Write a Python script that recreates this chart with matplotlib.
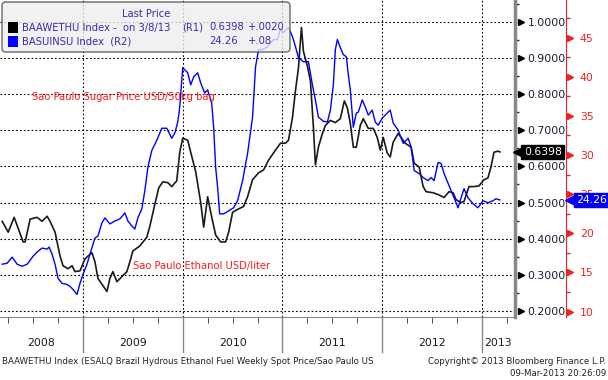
import numpy as np
import matplotlib.pyplot as plt
import matplotlib.transforms as mtransforms
from matplotlib.patches import FancyBboxPatch, Rectangle

# ethanol, USD/liter (R1), decimal year
eth_t = [2008.19, 2008.25, 2008.31, 2008.40, 2008.42, 2008.47, 2008.54, 2008.59, 2008.64, 2008.67,
         2008.72, 2008.77, 2008.80, 2008.85, 2008.89, 2008.92, 2008.97, 2009.02, 2009.05, 2009.09,
         2009.12, 2009.15, 2009.20, 2009.24, 2009.27, 2009.30, 2009.34, 2009.39, 2009.44, 2009.47,
         2009.50, 2009.57, 2009.64, 2009.67, 2009.72, 2009.76, 2009.80, 2009.85, 2009.89, 2009.94,
         2009.97, 2010.00, 2010.05, 2010.08, 2010.13, 2010.18, 2010.21, 2010.25, 2010.28, 2010.33,
         2010.38, 2010.43, 2010.46, 2010.50, 2010.55, 2010.61, 2010.65, 2010.70, 2010.76, 2010.81,
         2010.86, 2010.93, 2010.98, 2011.03, 2011.06, 2011.10, 2011.13, 2011.16, 2011.19, 2011.21,
         2011.25, 2011.28, 2011.31, 2011.33, 2011.36, 2011.40, 2011.43, 2011.48, 2011.53, 2011.58,
         2011.62, 2011.65, 2011.68, 2011.71, 2011.74, 2011.78, 2011.81, 2011.86, 2011.91, 2011.95,
         2011.98, 2012.01, 2012.05, 2012.08, 2012.11, 2012.16, 2012.23, 2012.29, 2012.32, 2012.37,
         2012.41, 2012.44, 2012.51, 2012.56, 2012.62, 2012.67, 2012.71, 2012.74, 2012.79, 2012.82,
         2012.87, 2012.92, 2012.97, 2013.02, 2013.06, 2013.09, 2013.12, 2013.16, 2013.18]
eth_v = [0.448, 0.418, 0.459, 0.391, 0.391, 0.454, 0.459, 0.448, 0.462, 0.448,
         0.418, 0.352, 0.325, 0.317, 0.325, 0.309, 0.311, 0.344, 0.352, 0.361,
         0.336, 0.290, 0.270, 0.254, 0.290, 0.309, 0.281, 0.295, 0.309, 0.336,
         0.366, 0.380, 0.404, 0.434, 0.495, 0.541, 0.557, 0.555, 0.544, 0.560,
         0.639, 0.678, 0.672, 0.639, 0.585, 0.500, 0.432, 0.516, 0.473, 0.410,
         0.391, 0.391, 0.418, 0.473, 0.481, 0.489, 0.516, 0.563, 0.582, 0.590,
         0.617, 0.645, 0.664, 0.664, 0.672, 0.735, 0.809, 0.872, 0.984, 0.918,
         0.877, 0.836, 0.708, 0.604, 0.653, 0.691, 0.713, 0.727, 0.721, 0.732,
         0.781, 0.762, 0.719, 0.653, 0.653, 0.713, 0.732, 0.705, 0.705, 0.680,
         0.645, 0.680, 0.637, 0.626, 0.667, 0.691, 0.664, 0.653, 0.609, 0.598,
         0.544, 0.530, 0.527, 0.522, 0.514, 0.530, 0.527, 0.508, 0.500, 0.503,
         0.544, 0.544, 0.546, 0.563, 0.568, 0.598, 0.639, 0.642, 0.6398]

# sugar, USD/50kg bag (R2)
sug_t = [2008.19, 2008.24, 2008.29, 2008.34, 2008.39, 2008.44, 2008.50, 2008.55, 2008.59, 2008.64,
         2008.66, 2008.69, 2008.72, 2008.75, 2008.79, 2008.84, 2008.87, 2008.90, 2008.94, 2008.97,
         2009.00, 2009.04, 2009.07, 2009.12, 2009.15, 2009.19, 2009.22, 2009.27, 2009.32, 2009.37,
         2009.42, 2009.45, 2009.49, 2009.52, 2009.55, 2009.59, 2009.62, 2009.65, 2009.69, 2009.74,
         2009.79, 2009.84, 2009.89, 2009.92, 2009.95, 2009.97, 2010.00, 2010.05, 2010.08, 2010.11,
         2010.15, 2010.18, 2010.22, 2010.25, 2010.29, 2010.31, 2010.33, 2010.35, 2010.37, 2010.41,
         2010.46, 2010.51, 2010.55, 2010.60, 2010.65, 2010.70, 2010.73, 2010.76, 2010.80, 2010.85,
         2010.91, 2010.95, 2010.98, 2011.01, 2011.06, 2011.10, 2011.13, 2011.16, 2011.21, 2011.26,
         2011.30, 2011.33, 2011.36, 2011.41, 2011.45, 2011.48, 2011.51, 2011.53, 2011.55, 2011.58,
         2011.61, 2011.64, 2011.66, 2011.68, 2011.71, 2011.74, 2011.76, 2011.80, 2011.83, 2011.86,
         2011.90, 2011.93, 2011.96, 2012.00, 2012.05, 2012.08, 2012.11, 2012.16, 2012.21, 2012.26,
         2012.29, 2012.32, 2012.37, 2012.41, 2012.46, 2012.49, 2012.52, 2012.56, 2012.59, 2012.62,
         2012.67, 2012.72, 2012.76, 2012.79, 2012.82, 2012.86, 2012.91, 2012.96, 2013.01, 2013.06,
         2013.11, 2013.14, 2013.18]
sug_v = [16.05, 16.18, 16.95, 16.05, 15.79, 16.05, 17.08, 17.72, 18.11, 17.98,
         18.24, 17.34, 16.05, 14.25, 13.60, 13.47, 13.22, 12.83, 12.19, 13.60,
         14.76, 16.05, 17.34, 19.40, 19.65, 21.33, 21.97, 21.20, 21.58, 21.84,
         22.61, 21.58, 20.94, 20.55, 21.97, 23.13, 25.44, 28.40, 30.59, 31.88,
         33.42, 33.42, 32.14, 32.78, 34.20, 36.13, 41.15, 40.50, 38.96, 39.99,
         40.50, 39.22, 37.93, 38.31, 36.64, 33.55, 28.40, 25.83, 22.48, 22.48,
         22.87, 23.26, 24.16, 26.73, 30.21, 34.84, 41.27, 43.46, 43.46, 43.85,
         44.75, 44.75, 46.04, 45.65, 46.29, 45.14, 43.85, 42.43, 41.92, 41.92,
         38.96, 37.03, 34.84, 34.32, 34.20, 35.74, 38.96, 43.46, 44.75, 43.72,
         42.82, 42.56, 40.24, 38.31, 33.55, 35.35, 35.48, 37.03, 36.13, 35.10,
         35.74, 34.20, 33.81, 34.71, 35.35, 35.74, 34.07, 33.17, 31.49, 32.14,
         30.98, 28.02, 27.63, 27.12, 26.73, 27.12, 26.73, 29.05, 28.92, 27.63,
         26.09, 24.54, 23.26, 24.54, 25.70, 24.54, 23.77, 23.26, 24.16, 23.90,
         24.16, 24.41, 24.26]

years = [2008, 2009, 2010, 2011, 2012, 2013]
r1_ticks = [0.2, 0.3, 0.4, 0.5, 0.6, 0.7, 0.8, 0.9, 1.0]
r2_ticks = [10, 15, 20, 25, 30, 35, 40, 45]

plt.rcParams['font.family'] = 'DejaVu Sans'
W, H = 608, 380
fs_axis = 7.8
fs_leg = 7.2
fs_foot = 6.2
fig = plt.figure(figsize=(W / 100, H / 100), dpi=100)
ax = fig.add_axes([0, 1 - 317 / H, 515 / W, 317 / H])
ax2 = ax.twinx()

x0, x1 = 2008.168, 2013.331
ax.set_xlim(x0, x1)
ax.set_ylim(0.1834, 1.060)
ax2.set_ylim(9.31, 49.8)

ax.plot(eth_t, eth_v, color='#1a1a1a', lw=1.2, zorder=3)
ax2.plot(sug_t, sug_v, color='#0000ff', lw=1.0, zorder=2)

# grid
ax.set_xticks(years[1:])
ax.set_xticklabels([])
ax.set_xticks([y + q for y in years for q in (0.25, 0.5, 0.75) if x0 < y + q < x1], minor=True)
ax.tick_params(axis='x', which='major', length=0)
ax.tick_params(axis='x', which='minor', direction='out', length=4, color='#333333')
ax.grid(True, which='major', color='black', linestyle=(0, (1.5, 2)), linewidth=0.8)

# R1 axis
ax.yaxis.tick_right()
ax.set_yticks(r1_ticks)
ax.set_yticklabels([f'{v:.4f}' for v in r1_ticks])
ax.set_yticks(np.arange(0.25, 1.06, 0.1), minor=True)
ax.tick_params(axis='y', which='major', length=0, pad=9, labelsize=fs_axis, labelcolor='#1a1a33')
ax.tick_params(axis='y', which='minor', length=3, width=1, color='#222222')
for s in ['top', 'left']:
    ax.spines[s].set_visible(False)
ax.spines['right'].set_linewidth(2.5)
ax.spines['right'].set_color('#888888')
ax.spines['bottom'].set_color('#888888')

blend1 = mtransforms.blended_transform_factory(ax.transAxes, ax.transData)
ax.plot([1.012] * len(r1_ticks), r1_ticks, ls='none', marker='>', ms=5, color='black',
        transform=blend1, clip_on=False)

# R2 axis (red)
red = '#ee2222'
ax2.spines['right'].set_position(('axes', 1.099))
ax2.spines['right'].set_color(red)
for s in ['top', 'left', 'bottom']:
    ax2.spines[s].set_visible(False)
ax2.set_yticks(r2_ticks)
ax2.set_yticks(np.arange(12.5, 49, 5), minor=True)
ax2.tick_params(axis='y', which='major', length=0, pad=10, labelsize=fs_axis, labelcolor=red)
ax2.tick_params(axis='y', which='minor', length=3, width=1, color=red)
blend2 = mtransforms.blended_transform_factory(ax2.transAxes, ax2.transData)
ax2.plot([1.106] * len(r2_ticks), r2_ticks, ls='none', marker='>', ms=5, color=red,
         transform=blend2, clip_on=False)

# last-value tags
ax.text(1.054, eth_v[-1], f'{eth_v[-1]:.4f}', transform=blend1, ha='center', va='center',
        color='white', fontsize=fs_axis, zorder=10, clip_on=False,
        bbox=dict(boxstyle='square,pad=0.22', fc='black', ec='black'))
ax.plot([1.007], [eth_v[-1]], marker='<', ms=8, color='black', transform=blend1, clip_on=False, zorder=10)
ax2.text(1.1485, sug_v[-1], f'{sug_v[-1]:.2f}', transform=blend2, ha='center', va='center',
         color='white', fontsize=fs_axis, zorder=10, clip_on=False,
         bbox=dict(boxstyle='square,pad=0.22', fc='#0000ee', ec='#0000ee'))
ax2.plot([1.108], [sug_v[-1]], marker='<', ms=8, color='#0000ee', transform=blend2, clip_on=False, zorder=10)

# year labels and separators below the axis
blendx = mtransforms.blended_transform_factory(ax.transData, ax.transAxes)
for y in years[1:]:
    ax.plot([y, y], [0, -0.11], color='#888888', lw=1, transform=blendx, clip_on=False)
clip = Rectangle((0, 0), 515 / W, 1, transform=fig.transFigure)
for y in years:
    lo, hi = max(y, x0), min(y + 1, x1)
    t = ax.text((lo + hi) / 2, -0.083, str(y), transform=blendx, ha='center', va='center',
                fontsize=fs_axis, color='#1a1a1a', clip_on=False)
    t.set_clip_path(clip)

# legend box
box = FancyBboxPatch((2 / W, 1 - 52 / H), 288 / W, 50 / H, transform=fig.transFigure,
                     boxstyle='round,pad=0,rounding_size=0.006', mutation_aspect=W / H,
                     fc='#eeeeee', ec='#444444', lw=1, alpha=0.8, zorder=20)
fig.patches.append(box)
leg_col = '#3a2ab0'
fig.text(146 / W, 1 - 14 / H, 'Last Price', ha='center', va='center', fontsize=fs_leg, color=leg_col, zorder=21)
fig.patches.append(Rectangle((8 / W, 1 - 33 / H), 10 / W, 11 / H, transform=fig.transFigure,
                             fc='black', ec='none', zorder=21))
fig.patches.append(Rectangle((8 / W, 1 - 47 / H), 10 / W, 11 / H, transform=fig.transFigure,
                             fc='#0000ff', ec='none', zorder=21))
row1 = 1 - 27.5 / H
row2 = 1 - 41 / H
fig.text(22 / W, row1, 'BAAWETHU Index -  on 3/8/13', va='center', fontsize=fs_leg, color=leg_col, zorder=21)
fig.text(182 / W, row1, '(R1)', va='center', fontsize=fs_leg, color=leg_col, zorder=21)
fig.text(209 / W, row1, '0.6398', va='center', fontsize=fs_leg, color=leg_col, zorder=21)
fig.text(248 / W, row1, '+.0020', va='center', fontsize=fs_leg, color=leg_col, zorder=21)
fig.text(22 / W, row2, 'BASUINSU Index  (R2)', va='center', fontsize=fs_leg, color=leg_col, zorder=21)
fig.text(209 / W, row2, '24.26', va='center', fontsize=fs_leg, color=leg_col, zorder=21)
fig.text(248 / W, row2, '+.08', va='center', fontsize=fs_leg, color=leg_col, zorder=21)

# annotations
fig.text(32 / W, 1 - 97 / H, 'Sao Paulo Sugar Price USD/50kg bag', va='center', fontsize=fs_leg, color='#ff1a1a')
fig.text(133 / W, 1 - 266 / H, 'Sao Paulo Ethanol USD/liter', va='center', fontsize=fs_leg, color='#ff1a1a')

# footer
fig.text(2 / W, 1 - 361 / H, 'BAAWETHU Index (ESALQ Brazil Hydrous Ethanol Fuel Weekly Spot Price/Sao Paulo US',
         va='center', fontsize=fs_foot, color='#222222')
fig.text(606 / W, 1 - 361 / H, 'Copyright\u00a9 2013 Bloomberg Finance L.P.', ha='right', va='center',
         fontsize=fs_foot, color='#222222')
fig.text(606 / W, 1 - 373 / H, '09-Mar-2013 20:26:09', ha='right', va='center', fontsize=fs_foot, color='#222222')

fig.savefig('out.png', dpi=100)
